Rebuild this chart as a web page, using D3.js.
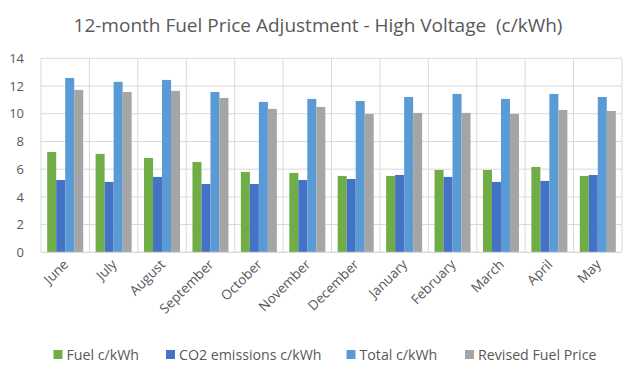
<!DOCTYPE html>
<html><head><meta charset="utf-8">
<script src="https://cdn.jsdelivr.net/npm/d3@7"></script>
<style>body{margin:0;background:#fff}svg{display:block}text{font-family:"Open Sans",sans-serif;fill:#595959}</style>
</head><body><svg id="c" width="636" height="378"></svg>
<script>
const months = ["June","July","August","September","October","November","December","January","February","March","April","May"];
const seriesNames = ["Fuel c/kWh","CO2 emissions c/kWh","Total c/kWh","Revised Fuel Price"];
const fuel = [7.24,7.1,6.81,6.52,5.8,5.73,5.51,5.51,5.94,5.94,6.16,5.51];
const co2 = [5.22,5.08,5.44,4.93,4.93,5.22,5.29,5.58,5.44,5.08,5.15,5.58];
const total = [12.58,12.3,12.44,11.57,10.85,11.07,10.92,11.21,11.43,11.07,11.43,11.21];
const revised = [11.72,11.57,11.65,11.14,10.35,10.49,9.98,10.06,10.06,9.98,10.27,10.2];
const yTicks = [0,2,4,6,8,10,12,14];
const colors = ["#70AD47","#4472C4","#5B9BD5","#A5A5A5"];
const values = [fuel, co2, total, revised];

const svg = d3.select("#c");
const L = 41, R = 622, T = 58.3, B = 252.3;
const x = d3.scaleBand().domain(months).range([L, R]).padding(0);
const y = d3.scaleLinear().domain([0,14]).range([B, T]);
const gap = 6.2;
const xs = d3.scaleBand().domain(d3.range(4)).range([gap, x.bandwidth()-gap]).padding(0);

svg.append("g").selectAll("line").data(yTicks).join("line")
  .attr("x1", L).attr("x2", R).attr("y1", d=>y(d)).attr("y2", d=>y(d))
  .attr("stroke", "#D9D9D9").attr("stroke-width", 1);
const bounds = months.map(m=>x(m)).concat([R]);
svg.append("g").selectAll("line").data(bounds).join("line")
  .attr("x1", d=>d).attr("x2", d=>d).attr("y1", T).attr("y2", B)
  .attr("stroke", "#D9D9D9").attr("stroke-width", 1);

const g = svg.append("g");
values.forEach((arr, si) => {
  g.append("g").selectAll("rect").data(arr).join("rect")
    .attr("x", (d,i)=>x(months[i]) + xs(si))
    .attr("width", xs.bandwidth())
    .attr("y", d=>y(d))
    .attr("height", d=>B - y(d))
    .attr("fill", colors[si]);
});

svg.append("line").attr("x1", L).attr("x2", R).attr("y1", B).attr("y2", B)
  .attr("stroke", "#D9D9D9").attr("stroke-width", 1);

const yAxis = d3.axisLeft(y).tickValues(yTicks).tickSize(0).tickPadding(0);
const ya = svg.append("g").attr("transform", `translate(${L-17},0)`).call(yAxis);
ya.select(".domain").remove();
ya.selectAll("text").style("font-size","13px").style("fill","#595959").style("font-family","'Open Sans',sans-serif");

const xAxis = d3.axisBottom(x).tickSize(0).tickPadding(0);
const xa = svg.append("g").attr("transform", `translate(0,${B})`).call(xAxis);
xa.select(".domain").remove();
xa.selectAll("text")
  .style("font-size","13.5px").style("fill","#595959").style("font-family","'Open Sans',sans-serif")
  .attr("text-anchor","end").attr("dy", null).attr("y", 0)
  .attr("transform", "translate(4,13) rotate(-45)");

svg.append("text").attr("x", 318).attr("y", 32).attr("text-anchor","middle")
  .style("font-size","19px").text("12-month Fuel Price Adjustment - High Voltage  (c/kWh)")
  .attr("xml:space","preserve");

const legX = [53.5, 166, 346.5, 465];
const lg = svg.append("g");
seriesNames.forEach((n,i)=>{
  lg.append("rect").attr("x", legX[i]).attr("y", 350).attr("width", 9).attr("height", 9).attr("fill", colors[i]);
  lg.append("text").attr("x", legX[i]+13).attr("y", 359.5).style("font-size","14.2px").text(n);
});
</script></body></html>
